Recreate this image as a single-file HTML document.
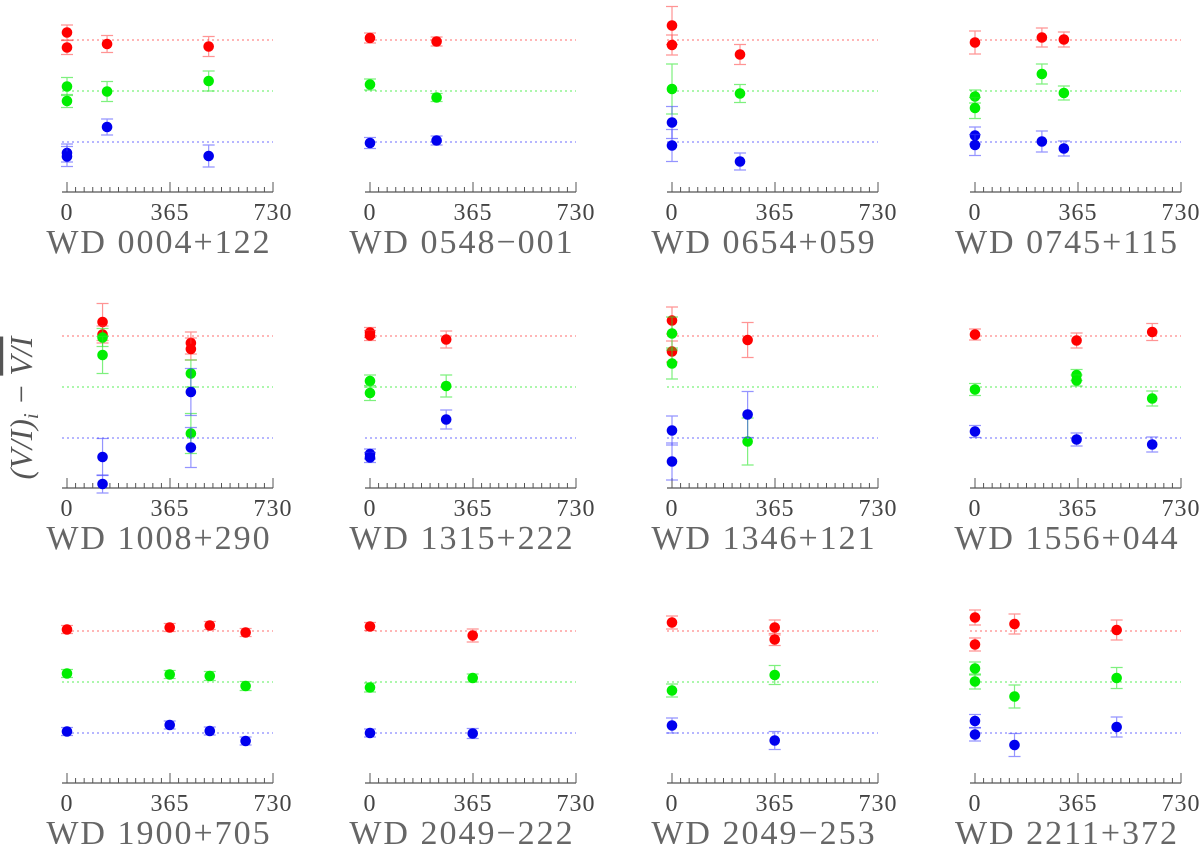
<!DOCTYPE html>
<html><head><meta charset="utf-8"><style>
html,body{margin:0;padding:0;background:#fff;}
svg{display:block;}
</style></head><body>
<svg id="chart" width="1200" height="844" xmlns="http://www.w3.org/2000/svg">
<text transform="translate(32,408) rotate(-90)" text-anchor="middle" font-family="Liberation Serif, serif" font-style="italic" font-size="32" fill="#555">(V/I)<tspan font-size="21" dy="6">i</tspan><tspan dy="-6"> − </tspan><tspan text-decoration="overline">V/I</tspan></text>
</svg>
<script>
const starNames = ["WD 0004+122","WD 0548−001","WD 0654+059","WD 0745+115","WD 1008+290","WD 1315+222","WD 1346+121","WD 1556+044","WD 1900+705","WD 2049−222","WD 2049−253","WD 2211+372"];
const xTicks = [0,365,730];
// each point: [day, deviation (mmag), error (mmag)]
const redSeries = [
 [[0,15,15],[0,-15,14],[142,-8,17],[502,-13,20]],
 [[0,4,10],[236,-3,9]],
 [[0,29,38],[0,-10,20],[241,-29,20]],
 [[0,-5,23],[237,5,19],[315,1,15]],
 [[126,28,37],[126,3,17],[439,-14,22],[439,-26,22]],
 [[0,7,10],[0,1,10],[270,-7,17]],
 [[0,31,27],[0,-31,21],[268,-8,35]],
 [[0,3,11],[360,-9,15],[628,8,17]],
 [[0,3,8],[364,7,8],[506,11,8],[633,-3,8]],
 [[0,9,8],[364,-9,13]],
 [[0,17,13],[364,7,15],[364,-17,12]],
 [[0,27,15],[0,-27,13],[140,14,20],[502,2,20]]
];
const greenSeries = [
 [[0,9,18],[0,-20,13],[142,-1,20],[502,20,20]],
 [[0,13,11],[236,-13,8]],
 [[0,4,50],[241,-5,18]],
 [[0,-11,13],[0,-34,21],[237,34,20],[315,-4,14]],
 [[126,99,18],[126,64,37],[439,27,27],[439,-93,40]],
 [[0,12,12],[0,-12,15],[270,2,22]],
 [[0,107,33],[0,47,31],[268,-109,47]],
 [[0,-5,12],[360,24,11],[360,13,11],[628,-23,15]],
 [[0,17,8],[364,15,8],[506,12,9],[633,-8,9]],
 [[0,-11,9],[364,8,8]],
 [[0,-17,13],[364,14,19]],
 [[0,27,13],[0,1,15],[140,-29,23],[502,8,21]]
];
const blueSeries = [
 [[0,-22,18],[0,-29,20],[142,30,16],[502,-28,22]],
 [[0,-2,11],[236,3,9]],
 [[0,39,32],[0,-7,32],[241,-39,17]],
 [[0,13,17],[0,-6,21],[237,1,21],[315,-13,15]],
 [[126,-38,37],[126,-92,18],[439,92,47],[439,-19,40]],
 [[0,-32,10],[0,-39,10],[270,37,19]],
 [[0,15,29],[0,-47,37],[268,47,46]],
 [[0,13,12],[360,-3,13],[628,-13,15]],
 [[0,3,8],[364,16,8],[506,4,8],[633,-16,8]],
 [[0,0,8],[364,-1,10]],
 [[0,15,15],[364,-15,18]],
 [[0,24,13],[0,-3,13],[140,-24,23],[502,12,20]]
];
const NS="http://www.w3.org/2000/svg";
const svg=document.getElementById('chart');
function mk(tag,attrs,parent){const e=document.createElementNS(NS,tag);for(const k in attrs)e.setAttribute(k,attrs[k]);(parent||svg).appendChild(e);return e;}
const colX0=[67,370,672,975], rowY0=[0,296,591];
const pxPerDay=206/730, pxPerMmag=0.5;
const lineOff={red:40,green:91,blue:142};
const dotCol={red:"#ff0000",green:"#00ee00",blue:"#0000ee"};
const barCol={red:"rgba(255,60,60,0.55)",green:"rgba(40,230,40,0.6)",blue:"rgba(60,60,255,0.55)"};
const dashCol={red:"#ff8a8a",green:"#7af27a",blue:"#8a8aff"};
starNames.forEach((name,i)=>{
  const c=i%4,r=Math.floor(i/4);
  const x0=colX0[c],top=rowY0[r];
  const xs=d=>x0+d*pxPerDay;
  const g=mk('g',{});
  
  
  const axY=top+192;
  const ax=mk('line',{x1:x0-5,x2:xs(730),y1:axY,y2:axY,stroke:'#555','stroke-width':1.3},g);
  
  
  for(let m=0;m<=24;m++){
    const d=m*730/24, major=(m%12===0);
    const t=mk('line',{x1:xs(d),x2:xs(d),y1:axY-(major?10:5),y2:axY,stroke:'#555','stroke-width':1},g);
    
    
  }
  xTicks.forEach(v=>{
    const t=mk('text',{x:xs(v),y:axY+28,'text-anchor':'middle','font-family':'Liberation Serif, serif','font-size':24,fill:'#444','letter-spacing':1},g);
    t.textContent=v;
    
    
  });
  const ti=mk('text',{x:x0+92,y:top+253,'text-anchor':'middle','font-family':'Liberation Serif, serif','font-size':34,fill:'#666','letter-spacing':2},g);
  ti.textContent=name;
  
  
  [['red',redSeries],['green',greenSeries],['blue',blueSeries]].forEach(([col,ser])=>{
    const ly=top+lineOff[col];
    const dl=mk('line',{x1:x0-5,x2:xs(730),y1:ly,y2:ly,stroke:dashCol[col],'stroke-width':1.3,'stroke-dasharray':'2,3'},g);
    
    
    ser[i].forEach(p=>{
      const px=xs(p[0]), py=ly-p[1]*pxPerMmag, e=p[2]*pxPerMmag;
      const eb=mk('path',{d:`M${px},${py-e}V${py+e}M${px-6},${py-e}H${px+6}M${px-6},${py+e}H${px+6}`,stroke:barCol[col],'stroke-width':1.2,fill:'none'},g);
      
      
      const dot=mk('circle',{cx:px,cy:py,r:5.3,fill:dotCol[col]},g);
      
      
    });
  });
});
</script>
</body></html>
